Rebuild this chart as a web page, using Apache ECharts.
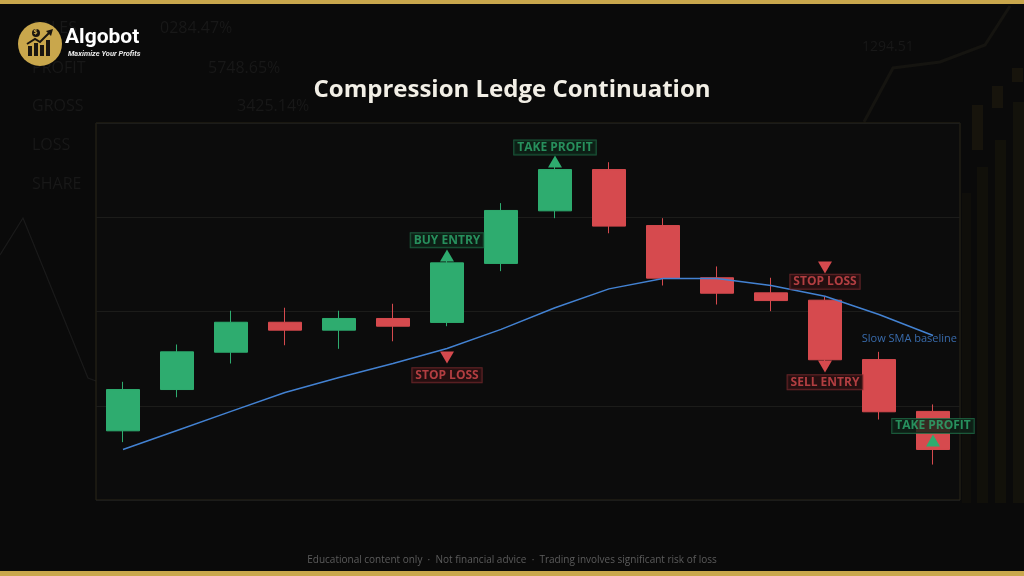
<!DOCTYPE html>
<html>
<head>
<meta charset="utf-8">
<script src="https://cdn.jsdelivr.net/npm/echarts@6/dist/echarts.min.js"></script>
<style>
html,body{margin:0;padding:0;background:#0a0a0a;}
#c{width:1024px;height:576px;}
</style>
</head>
<body>
<div id="c"></div>
<script>
// ---- data ----
const categories = ['1','2','3','4','5','6','7','8','9','10','11','12','13','14','15','16'];
// [open, close, low, high]
const opens  = [93.67, 95.86, 97.84, 99.43, 99.01, 99.63, 99.42, 102.55, 105.34, 107.53, 104.56, 101.79, 100.99, 100.60, 97.45, 94.70];
const closes = [95.86, 97.86, 99.43, 99.01, 99.63, 99.22, 102.58, 105.36, 107.53, 104.53, 101.77, 100.97, 100.58, 97.44, 94.68, 92.68];
const lows   = [93.07, 95.45, 97.24, 98.21, 98.02, 98.42, 99.22, 102.14, 104.95, 104.15, 101.38, 100.37, 100.02, 97.35, 94.27, 91.88];
const highs  = [96.27, 98.25, 100.04, 100.20, 100.04, 100.41, 102.72, 105.75, 107.69, 107.92, 104.95, 102.39, 101.79, 100.78, 97.86, 95.07];
const smaValues = [92.68, 93.69, 94.70, 95.70, 96.50, 97.24, 98.04, 99.05, 100.20, 101.20, 101.75, 101.75, 101.38, 100.81, 99.84, 98.73];
const smaName = 'Slow SMA baseline';
// signal triangles: [index, price, direction]
const buyMarkers  = [[6, 102.97, 'up'], [8, 107.96, 'up'], [15, 93.16, 'up']];
const sellMarkers = [[6, 97.56, 'down'], [13, 102.33, 'down'], [13, 97.08, 'down']];
// signal labels: [index, price, text]
const buyLabels  = [[6, 103.78, 'BUY ENTRY'], [8, 108.70, 'TAKE PROFIT'], [15, 93.93, 'TAKE PROFIT']];
const sellLabels = [[6, 96.62, 'STOP LOSS'], [13, 101.58, 'STOP LOSS'], [13, 96.25, 'SELL ENTRY']];
const yTicks = {min: 90, max: 110, interval: 5};
const titleText = 'Compression Ledge Continuation';
const footerText = 'Educational content only  ·  Not financial advice  ·  Trading involves significant risk of loss';

// ---- styles ----
const GREEN = '#2eac6f', RED = '#d64a4e', BLUE = '#4382d2', GOLD = '#c9a74c';
const FONT = "'Open Sans', 'Noto Sans', sans-serif";

const candleData = opens.map((o, i) => [o, closes[i], lows[i], highs[i]]);

function labelSeries(list, color, fill, border) {
  return {
    type: 'scatter', symbolSize: 0, silent: true, z: 6,
    data: list.map(d => ({value: [d[0], d[1]], name: d[2]})),
    label: {
      show: true, position: 'inside', formatter: p => p.name,
      color: color, fontFamily: FONT, fontWeight: 'bold', fontSize: 12, lineHeight: 12,
      backgroundColor: fill, borderColor: border, borderWidth: 1, padding: [1, 3, 1, 3]
    }
  };
}
function markerSeries(list, color) {
  return {
    type: 'scatter', symbol: 'triangle', symbolSize: [14, 12], silent: true, z: 5,
    data: list.map(d => ({value: [d[0], d[1]], symbolRotate: d[2] === 'down' ? 180 : 0})),
    itemStyle: {color: color, opacity: 1}
  };
}

const bgText = (t, x, y, size) => ({type: 'text', left: x, top: y, silent: true,
  style: {text: t, fill: '#181818', font: size + 'px ' + FONT}});

const chart = echarts.init(document.getElementById('c'), null, {renderer: 'canvas'});
chart.setOption({
  backgroundColor: '#0a0a0a',
  animation: false,
  title: {
    text: titleText, left: 'center', top: 73,
    textStyle: {color: '#f2efe6', fontFamily: FONT, fontWeight: 'bold', fontSize: 24}
  },
  grid: {left: 96, top: 123, width: 864, height: 377, show: true,
         backgroundColor: '#0c0c0c', borderColor: '#2a2618', borderWidth: 1},
  xAxis: {type: 'category', data: categories, boundaryGap: true,
          axisLine: {show: false}, axisTick: {show: false}, axisLabel: {show: false}, splitLine: {show: false}},
  yAxis: {type: 'value', min: yTicks.min, max: yTicks.max, interval: yTicks.interval,
          axisLine: {show: false}, axisTick: {show: false}, axisLabel: {show: false},
          splitLine: {show: true, lineStyle: {color: '#1c1c1a', width: 1}}},
  series: [
    {
      type: 'candlestick', data: candleData, barWidth: 33, z: 3,
      itemStyle: {color: GREEN, color0: RED, borderColor: GREEN, borderColor0: RED, borderWidth: 1}
    },
    {
      type: 'line', name: smaName, data: smaValues, symbol: 'none', smooth: false, z: 4,
      lineStyle: {color: BLUE, width: 1.5}
    },
    {
      type: 'scatter', symbolSize: 0, silent: true, z: 6,
      data: [{value: [15, 98.57], name: smaName}],
      label: {show: true, position: 'inside', align: 'right', offset: [24, 0], formatter: p => p.name,
              color: BLUE, fontFamily: FONT, fontSize: 11}
    },
    markerSeries(buyMarkers, GREEN),
    markerSeries(sellMarkers, RED),
    labelSeries(buyLabels, GREEN, '#0e2318', '#1e6b46'),
    labelSeries(sellLabels, RED, '#2a1012', '#7c2b2e')
  ],
  graphic: [
    // decorative background
    {type: 'polyline', silent: true, z: -10, shape: {points: [[0,255],[23,218],[88,378],[96,381]]},
     style: {stroke: '#1a1a1a', lineWidth: 1.2, fill: null}},
    {type: 'polyline', silent: true, z: -10, shape: {points: [[864,122],[893,68],[940,62],[985,45],[1010,6]]},
     style: {stroke: '#151410', lineWidth: 3, fill: null}},
    {type: 'rect', silent: true, z: -10, shape: {x: 962, y: 193, width: 9, height: 310}, style: {fill: '#0f0e0a'}},
    {type: 'rect', silent: true, z: -10, shape: {x: 977, y: 167, width: 11, height: 336}, style: {fill: '#11100a'}},
    {type: 'rect', silent: true, z: -10, shape: {x: 995, y: 140, width: 11, height: 363}, style: {fill: '#12110a'}},
    {type: 'rect', silent: true, z: -10, shape: {x: 1013, y: 102, width: 11, height: 401}, style: {fill: '#13120b'}},
    {type: 'rect', silent: true, z: -10, shape: {x: 972, y: 105, width: 11, height: 45}, style: {fill: '#17140c'}},
    {type: 'rect', silent: true, z: -10, shape: {x: 992, y: 86, width: 11, height: 22}, style: {fill: '#17140c'}},
    {type: 'rect', silent: true, z: -10, shape: {x: 1012, y: 68, width: 11, height: 14}, style: {fill: '#17140c'}},
    bgText('SALES', 32, 20, 16), bgText('0284.47%', 160, 20, 16),
    bgText('PROFIT', 32, 60, 16), bgText('5748.65%', 208, 60, 16),
    bgText('GROSS', 32, 98, 16), bgText('3425.14%', 237, 98, 16),
    bgText('LOSS', 32, 137, 16), bgText('SHARE', 32, 176, 16),
    bgText('1294.51', 862, 40, 14),
    // gold frame bars
    {type: 'rect', silent: true, z: 20, shape: {x: 0, y: 0, width: 1024, height: 4}, style: {fill: GOLD}},
    {type: 'rect', silent: true, z: 20, shape: {x: 0, y: 571, width: 1024, height: 5}, style: {fill: GOLD}},
    // logo
    {type: 'circle', silent: true, z: 20, shape: {cx: 40, cy: 44, r: 22}, style: {fill: GOLD}},
    {type: 'rect', silent: true, z: 21, shape: {x: 28, y: 46, width: 4, height: 10}, style: {fill: '#1a1610'}},
    {type: 'rect', silent: true, z: 21, shape: {x: 34, y: 43, width: 4, height: 13}, style: {fill: '#1a1610'}},
    {type: 'rect', silent: true, z: 21, shape: {x: 40, y: 45, width: 4, height: 11}, style: {fill: '#1a1610'}},
    {type: 'rect', silent: true, z: 21, shape: {x: 46, y: 40, width: 4, height: 16}, style: {fill: '#1a1610'}},
    {type: 'polyline', silent: true, z: 21, shape: {points: [[27,44],[35,39],[40,42],[50,32]]},
     style: {stroke: '#1a1610', lineWidth: 2, fill: null}},
    {type: 'polygon', silent: true, z: 21, shape: {points: [[46,31],[53,29],[51,36]]}, style: {fill: '#1a1610'}},
    {type: 'circle', silent: true, z: 21, shape: {cx: 36, cy: 33, r: 4}, style: {fill: '#1a1610'}},
    {type: 'text', silent: true, z: 21, left: 33.5, top: 28.5, style: {text: '$', fill: GOLD, font: 'bold 7px ' + FONT}},
    {type: 'text', silent: true, z: 21, left: 65, top: 27, style: {text: 'Algobot', fill: '#ffffff', font: 'bold 21px Roboto, Arial, sans-serif'}},
    {type: 'text', silent: true, z: 21, left: 68, top: 50, style: {text: 'Maximize Your Profits', fill: '#e8e8e8', font: 'italic bold 7.5px Roboto, Arial, sans-serif'}},
    // footer
    {type: 'text', silent: true, z: 21, left: 'center', top: 555,
     style: {text: footerText, fill: '#5c5c5c', font: '10px ' + FONT}}
  ]
});
</script>
</body>
</html>
